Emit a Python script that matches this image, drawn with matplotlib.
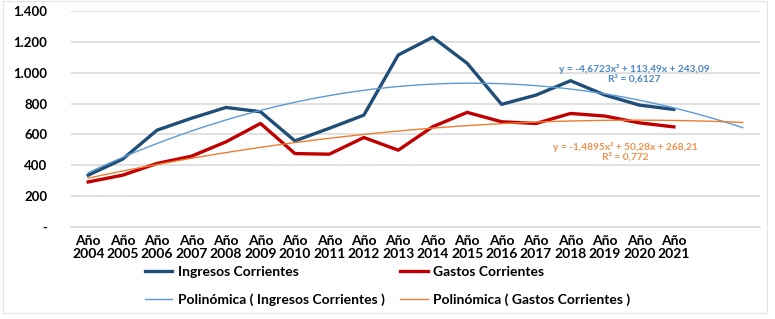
import numpy as np
import matplotlib.pyplot as plt
from matplotlib.ticker import FuncFormatter
from matplotlib.patches import Rectangle

years = list(range(2004, 2022))
labels = [f"Año\n{y}" for y in years]

ingresos = [336, 440, 628, 705, 775, 747, 558, 640, 725, 1115, 1230, 1061,
            795, 855, 948, 855, 790, 762]
gastos = [292, 336, 412, 459, 552, 671, 476, 472, 580, 498, 650, 743,
          682, 671, 736, 719, 675, 649]

# trendline coefficients as shown on the chart (x = 1..n, forecast 2 periods)
coef_ing = [-4.6723, 113.49, 243.09]
coef_gas = [-1.4895, 50.28, 268.21]
forecast = 2

c_ing = "#1f4e79"
c_gas = "#c00000"
c_ing_t = "#5b9bd5"
c_gas_t = "#ed7d31"

plt.rcParams["font.family"] = ["Lato", "DejaVu Sans"]
plt.rcParams["font.weight"] = "bold"

fig = plt.figure(figsize=(7.75, 3.19), dpi=100)
ax = fig.add_axes([71 / 775, 1 - 227 / 319, (760 - 71) / 775, (227 - 11) / 319])

# faint chart frame
fig.patches.append(Rectangle((3 / 775, 1 - 313 / 319), 764 / 775, 312 / 319,
                             transform=fig.transFigure, fill=False,
                             edgecolor="#e4e4e4", lw=0.8))

x = np.arange(1, len(years) + 1)
xt = np.linspace(1, len(years) + forecast, 200)

ax.plot(x, ingresos, color=c_ing, lw=2.4, solid_joinstyle="round", label="Ingresos Corrientes", zorder=3)
ax.plot(xt, np.polyval(coef_ing, xt), color=c_ing_t, lw=1.0, label="Polinómica ( Ingresos Corrientes )", zorder=4)
ax.plot(x, gastos, color=c_gas, lw=2.4, solid_joinstyle="round", label="Gastos Corrientes", zorder=3)
ax.plot(xt, np.polyval(coef_gas, xt), color=c_gas_t, lw=1.0, label="Polinómica ( Gastos Corrientes )", zorder=4)

ax.set_xlim(0.5, len(years) + forecast + 0.5)
ax.set_ylim(0, 1400)
ax.set_yticks(range(0, 1401, 200))
ax.yaxis.set_major_formatter(FuncFormatter(
    lambda v, p: "-" if v == 0 else f"{int(v):,}".replace(",", ".")))
ax.set_xticks(x)
ax.set_xticklabels(labels, fontsize=10, fontweight="bold", linespacing=1.1)
ax.tick_params(axis="y", labelsize=9.5, length=0, pad=17)
ax.tick_params(axis="x", length=0, pad=6)
for t in ax.get_yticklabels():
    t.set_fontweight("bold")

ax.grid(axis="y", color="#dadada", lw=1.2)
ax.set_axisbelow(True)
for s in ["top", "right", "left"]:
    ax.spines[s].set_visible(False)
ax.spines["bottom"].set_color("#dadada")
ax.spines["bottom"].set_linewidth(1.2)

ax.text(634 / 100, (319 - 74) / 100, "y = -4,6723x² + 113,49x + 243,09\nR² = 0,6127",
        transform=fig.dpi_scale_trans, fontsize=7.3, fontweight="bold",
        color="#4a86c8", ha="center", va="center", linespacing=1.05)
ax.text(625 / 100, (319 - 152) / 100, "y = -1,4895x² + 50,28x + 268,21\nR² = 0,772",
        transform=fig.dpi_scale_trans, fontsize=7.3, fontweight="bold",
        color="#f0914e", ha="center", va="center", linespacing=1.05)

handles, labs = ax.get_legend_handles_labels()
leg = fig.legend(handles, labs, ncol=2, loc="center left",
                 bbox_to_anchor=(132 / 775, 1 - 286 / 319), frameon=False,
                 prop={"size": 10, "weight": "bold"}, handlelength=2.0,
                 handletextpad=0.4, labelspacing=1.15, columnspacing=1.1)

fig.savefig("out.png", dpi=100)
